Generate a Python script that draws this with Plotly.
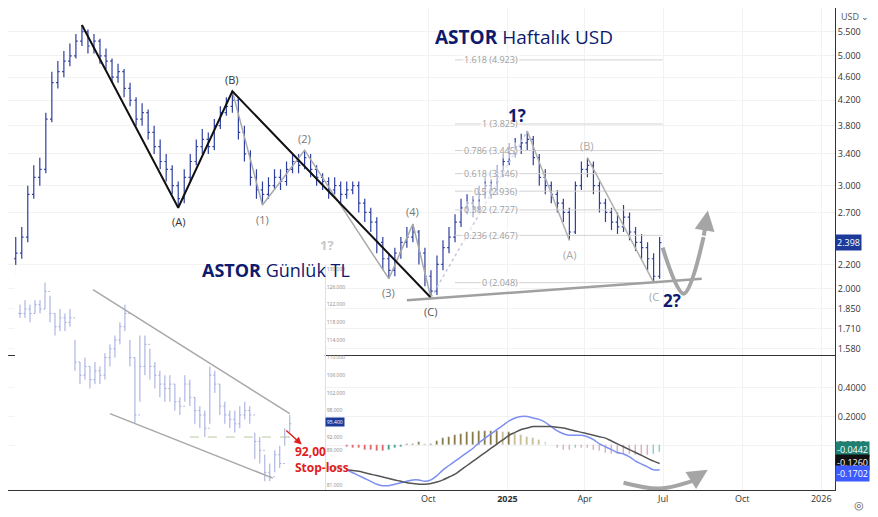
import math
import pandas as pd
import plotly.graph_objects as go

# weekly USD bars (open = previous close)
wk_close = [2.30, 2.45, 2.90, 3.10, 3.20, 3.90, 4.50, 4.70, 4.90, 5.00, 5.30, 5.50,
            5.20, 5.30, 5.00, 4.90, 4.60, 4.70, 4.40, 4.20, 3.90, 4.00, 3.70, 3.50, 3.30, 3.20, 3.00, 2.85,
            3.10, 3.30, 3.50, 3.60, 3.50, 3.80, 4.00, 4.10, 4.20,
            3.70, 3.40, 3.10, 2.95, 2.90,
            3.00, 3.10, 3.05, 3.20, 3.30, 3.25, 3.35,
            3.20, 3.10, 3.05, 2.95, 3.00, 2.90, 2.95, 3.00, 2.80, 2.70, 2.60, 2.40, 2.25, 2.15,
            2.30, 2.40, 2.45, 2.50,
            2.30, 2.10, 1.98,
            2.20, 2.35, 2.45, 2.60, 2.75, 2.80, 2.75, 2.90, 3.00, 2.95, 3.15, 3.30, 3.40, 3.50, 3.55, 3.60,
            3.35, 3.10, 3.00, 2.90, 2.80, 2.70, 2.50,
            3.00, 3.20, 3.25,
            3.00, 2.80, 2.70, 2.60, 2.55, 2.65, 2.50, 2.40, 2.35, 2.25, 2.10, 2.398]
wk_high = [2.45, 2.55, 3.00, 3.25, 3.35, 4.00, 4.70, 4.90, 5.10, 5.25, 5.45, 5.65,
           5.55, 5.45, 5.35, 5.15, 4.95, 4.85, 4.75, 4.50, 4.25, 4.15, 4.05, 3.80, 3.60, 3.40, 3.25, 3.05,
           3.20, 3.40, 3.60, 3.75, 3.70, 3.90, 4.10, 4.25, 4.35,
           4.25, 3.80, 3.45, 3.20, 3.05,
           3.10, 3.20, 3.20, 3.30, 3.40, 3.40, 3.45,
           3.40, 3.25, 3.15, 3.10, 3.10, 3.05, 3.05, 3.05, 3.05, 2.85, 2.75, 2.65, 2.45, 2.30,
           2.35, 2.45, 2.55, 2.58,
           2.52, 2.35, 2.15,
           2.28, 2.42, 2.55, 2.68, 2.85, 2.90, 2.88, 3.00, 3.10, 3.08, 3.25, 3.40, 3.55, 3.62, 3.68, 3.72,
           3.65, 3.40, 3.20, 3.05, 2.95, 2.85, 2.75,
           3.05, 3.30, 3.35,
           3.30, 3.05, 2.85, 2.75, 2.70, 2.78, 2.70, 2.55, 2.48, 2.40, 2.30, 2.45]
wk_low = [2.10, 2.25, 2.40, 2.85, 3.00, 3.15, 3.85, 4.40, 4.60, 4.80, 4.95, 5.20,
          5.05, 5.05, 4.85, 4.75, 4.50, 4.50, 4.25, 4.10, 3.80, 3.80, 3.60, 3.40, 3.20, 3.05, 2.90, 2.75,
          2.80, 3.05, 3.25, 3.40, 3.40, 3.45, 3.75, 3.95, 4.00,
          3.60, 3.30, 3.00, 2.85, 2.78,
          2.85, 2.95, 2.95, 3.00, 3.15, 3.15, 3.20,
          3.10, 3.00, 2.95, 2.85, 2.90, 2.80, 2.85, 2.90, 2.70, 2.60, 2.50, 2.30, 2.15, 2.08,
          2.10, 2.25, 2.35, 2.40,
          2.20, 2.02, 1.93,
          1.95, 2.15, 2.30, 2.40, 2.55, 2.68, 2.65, 2.70, 2.85, 2.85, 2.90, 3.10, 3.25, 3.35, 3.40, 3.45,
          3.25, 3.00, 2.90, 2.80, 2.70, 2.60, 2.42,
          2.48, 2.95, 3.10,
          2.90, 2.70, 2.60, 2.52, 2.48, 2.50, 2.42, 2.32, 2.25, 2.15, 2.05, 2.08]
wk_first_open = 2.25
wk_start = "2023-06-09"

# MACD, weeks 55..107
macd_start = 55
macd = [-0.17, -0.19, -0.21, -0.23, -0.25, -0.27, -0.28, -0.28, -0.27, -0.26, -0.25, -0.24, -0.24, -0.25, -0.24,
        -0.21, -0.17, -0.14, -0.11, -0.08, -0.05, -0.02, 0.02, 0.05, 0.08, 0.11, 0.14, 0.17, 0.19, 0.20,
        0.20, 0.19, 0.18, 0.16, 0.13, 0.10, 0.08, 0.07, 0.07, 0.07, 0.06, 0.04, 0.01, -0.01, -0.03,
        -0.05, -0.06, -0.08, -0.11, -0.13, -0.15, -0.17, -0.1702]
signal = [-0.17, -0.175, -0.18, -0.19, -0.20, -0.21, -0.22, -0.23, -0.24, -0.25, -0.26, -0.265, -0.27, -0.27, -0.265,
          -0.255, -0.24, -0.22, -0.20, -0.17, -0.14, -0.11, -0.08, -0.05, -0.02, 0.01, 0.04, 0.07, 0.09, 0.11,
          0.12, 0.13, 0.13, 0.13, 0.13, 0.125, 0.12, 0.11, 0.10, 0.09, 0.08, 0.07, 0.06, 0.05, 0.03,
          0.01, -0.01, -0.03, -0.05, -0.07, -0.09, -0.11, -0.126]
hist = [-0.01, -0.02, -0.02, -0.03, -0.03, -0.04, -0.04, -0.03, -0.02, -0.01, 0.01, 0.01, 0.02, 0.01, 0.01,
        0.03, 0.05, 0.06, 0.07, 0.08, 0.09, 0.09, 0.10, 0.10, 0.10, 0.10, 0.09, 0.09, 0.08, 0.07,
        0.06, 0.05, 0.04, 0.02, 0.0, -0.02, -0.03, -0.03, -0.02, -0.02, -0.02, -0.03, -0.04, -0.05, -0.06,
        -0.06, -0.06, -0.06, -0.07, -0.07, -0.07, -0.06, -0.0442]

# Fibonacci retracement
fib_ratio = ["1.618", "1", "0.786", "0.618", "0.5", "0.382", "0.236", "0"]
fib_price = [4.923, 3.825, 3.445, 3.146, 2.936, 2.727, 2.467, 2.048]

price_ticks = [5.5, 5.0, 4.6, 4.2, 3.8, 3.4, 3.0, 2.7, 2.2, 2.0, 1.85, 1.71, 1.58]
macd_ticks = [0.4, 0.2, 0.0]

# daily TL inset
d_close = [120, 121, 120, 122, 121, 125, 120, 117, 119, 118, 119, 109, 106, 108, 105, 107, 106, 110, 112, 114,
           117, 120, 110, 97, 108, 113, 108, 106, 104, 103, 104, 100, 99, 104, 101, 98, 97, 94, 106, 104,
           99, 97, 96, 95, 97, 98, 97, 91, 89, 84, 83, 88, 86, 92, 95]
d_high = [122, 123, 122, 123, 123, 127, 124, 120, 121, 120, 121, 114, 109, 110, 108, 109, 108, 111, 113, 115,
          118, 122, 114, 110, 115, 115, 112, 109, 107, 106, 106, 104, 101, 106, 105, 101, 99, 98, 108, 107,
          104, 100, 98, 98, 99, 100, 99, 93, 92, 88, 86, 89, 90, 94, 97]
d_low = [119, 119, 118, 120, 120, 121, 118, 115, 116, 116, 117, 107, 104, 105, 103, 104, 104, 105, 108, 110,
         113, 116, 108, 95, 100, 106, 105, 103, 101, 100, 100, 98, 97, 100, 99, 95, 94, 92, 95, 102,
         97, 95, 94, 93, 94, 96, 95, 87, 86, 82, 82, 84, 85, 90, 93]
d_ticks = [130, 126, 122, 118, 114, 110, 106, 102, 98, 92, 89, 85, 81]
stop_loss = 92.00

NAVY = "#0d1a6e"
BAR = "#2f3f9f"
GRID = "#f2f2f2"

dates = pd.date_range(wk_start, periods=len(wk_close), freq="7D")
wk_open = [wk_first_open] + wk_close[:-1]
d = lambda i: pd.Timestamp(wk_start) + pd.Timedelta(days=7 * i)
lg = math.log10

fig = go.Figure()

fig.add_trace(go.Ohlc(x=dates, open=wk_open, high=wk_high, low=wk_low, close=wk_close,
                      increasing_line_color=BAR, decreasing_line_color=BAR, line_width=1.2,
                      tickwidth=0.3, xaxis="x2", yaxis="y", showlegend=False))

# fib lines
f0, f1 = d(73), d(107.5)
for r, p in zip(fib_ratio, fib_price):
    fig.add_trace(go.Scatter(x=[f0, f1], y=[p, p], mode="lines", line=dict(color="#d2d2d2", width=1),
                             xaxis="x2", yaxis="y", showlegend=False, hoverinfo="skip"))
    fig.add_annotation(x=d(83.8), y=lg(p), xref="x2", yref="y", text=f"{r} ({p:.3f})", showarrow=False,
                       xanchor="right", yanchor="middle", font=dict(size=9, color="#a0a0a0"),
                       bgcolor="rgba(255,255,255,0.55)")

# elliott waves
def pt(i, which):
    return d(i), (wk_high[i] if which == "h" else wk_low[i])

main_wave = [pt(11, "h"), pt(27, "l"), pt(36, "h"), pt(69, "l")]
sub_wave = [pt(36, "h"), pt(41, "l"), pt(48, "h"), pt(62, "l"), pt(66, "h"), pt(69, "l")]
fig.add_trace(go.Scatter(x=[p[0] for p in sub_wave], y=[p[1] for p in sub_wave], mode="lines",
                         line=dict(color="#a8a8a8", width=1.5), xaxis="x2", yaxis="y", showlegend=False))
fig.add_trace(go.Scatter(x=[p[0] for p in main_wave], y=[p[1] for p in main_wave], mode="lines",
                         line=dict(color="#111111", width=2), xaxis="x2", yaxis="y", showlegend=False))
up = [pt(69, "l"), pt(85, "h")]
fig.add_trace(go.Scatter(x=[p[0] for p in up], y=[p[1] for p in up], mode="lines",
                         line=dict(color="#c4c8dc", width=1.5, dash="dot"), xaxis="x2", yaxis="y", showlegend=False))
for seg in ([pt(85, "h"), pt(92, "l")], [pt(95, "h"), pt(106, "l")]):
    fig.add_trace(go.Scatter(x=[p[0] for p in seg], y=[p[1] for p in seg], mode="lines",
                             line=dict(color="#b0b0b0", width=1.5), xaxis="x2", yaxis="y", showlegend=False))

# support line
sup_w = [65, 114]
sup_p = [1.91, 2.08]
fig.add_trace(go.Scatter(x=[d(w) for w in sup_w], y=sup_p, mode="lines", line=dict(color="#a0a0a0", width=2.5),
                         xaxis="x2", yaxis="y", showlegend=False))

# projected path arrows
proj_w = [107.5, 111, 114.3]
proj_p = [2.35, 1.96, 2.45]
fig.add_trace(go.Scatter(x=[d(w) for w in proj_w], y=proj_p, mode="lines", line=dict(color="#a5a5a5", width=4, shape="spline"),
                         xaxis="x2", yaxis="y", showlegend=False))
fig.add_annotation(x=d(115), y=lg(2.72), ax=d(114.3), ay=lg(2.45), xref="x2", yref="y", axref="x2", ayref="y",
                   showarrow=True, arrowhead=2, arrowsize=1, arrowwidth=4, arrowcolor="#a5a5a5", text="")
mproj_w = [101, 107, 113]
mproj_p = [-0.26, -0.30, -0.24]
fig.add_trace(go.Scatter(x=[d(w) for w in mproj_w], y=mproj_p, mode="lines", line=dict(color="#a5a5a5", width=4, shape="spline"),
                         xaxis="x", yaxis="y2", showlegend=False))
fig.add_annotation(x=d(115), y=-0.17, ax=d(112.5), ay=-0.235, xref="x", yref="y2", axref="x", ayref="y2",
                   showarrow=True, arrowhead=2, arrowsize=1, arrowwidth=4, arrowcolor="#a5a5a5", text="")

# MACD
mdates = dates[macd_start:]
hcol = []
for k, h in enumerate(hist):
    prev = hist[k - 1] if k else h
    if h >= 0:
        hcol.append("#7d6a2e" if h >= prev else "#c9b98a")
    else:
        hcol.append("#e0524f" if h <= prev else "#2a8f7f")
fig.add_trace(go.Bar(x=mdates, y=hist, marker_color=hcol, width=1.6e8, xaxis="x", yaxis="y2", showlegend=False))
fig.add_trace(go.Scatter(x=mdates, y=macd, mode="lines", line=dict(color="#7d8ff0", width=1.5, shape="spline"),
                         xaxis="x", yaxis="y2", showlegend=False))
fig.add_trace(go.Scatter(x=mdates, y=signal, mode="lines", line=dict(color="#555555", width=1.5, shape="spline"),
                         xaxis="x", yaxis="y2", showlegend=False))

# inset daily chart
di = list(range(len(d_close)))
d_open = [d_close[0]] + d_close[:-1]
fig.add_trace(go.Ohlc(x=di, open=d_open, high=d_high, low=d_low, close=d_close,
                      increasing_line_color="#9ea8dc", decreasing_line_color="#9ea8dc", line_width=1,
                      tickwidth=0.3, xaxis="x3", yaxis="y3", showlegend=False))
ch_top = [(14.6, 125.4), (54, 97.3)]
ch_bot = [(18, 97.3), (50.6, 82.7)]
for ch in (ch_top, ch_bot):
    fig.add_trace(go.Scatter(x=[c[0] for c in ch], y=[c[1] for c in ch], mode="lines",
                             line=dict(color="#a8a8a8", width=1.5), xaxis="x3", yaxis="y3", showlegend=False))
fig.add_trace(go.Scatter(x=[34, 54], y=[stop_loss, stop_loss], mode="lines",
                         line=dict(color="#b8c8a0", width=1, dash="dash"), xaxis="x3", yaxis="y3", showlegend=False))
fig.add_annotation(x=56.4, y=90.3, ax=53, ay=93.8, xref="x3", yref="y3", axref="x3", ayref="y3", text="",
                   showarrow=True, arrowhead=2, arrowwidth=1.5, arrowcolor="#e02020")
fig.add_annotation(x=54.6, y=91, xref="x3", yref="y3", xanchor="left", yanchor="top", showarrow=False,
                   text="<b>92,00<br>Stop-loss</b>", align="left", font=dict(size=12, color="#e02020", family="Open Sans"))
fig.add_annotation(x=1.0, y=131.8, xref="x3 domain", yref="y3", xanchor="left", showarrow=False,
                   text="131.784", bgcolor="#222", font=dict(size=5, color="white"), borderpad=1)
fig.add_annotation(x=1.0, y=95.4, xref="x3 domain", yref="y3", xanchor="left", showarrow=False,
                   text="95.400", bgcolor="#1c3a9a", font=dict(size=5, color="white"), borderpad=1)

# labels
lab = dict(xref="x2", yref="y", showarrow=False)
for i, w, t, col, sh in [(27, "l", "(A)", "#333", -14), (36, "h", "(B)", "#333", 12), (41, "l", "(1)", "#777", -14),
                         (48, "h", "(2)", "#777", 12), (62, "l", "(3)", "#777", -14), (66, "h", "(4)", "#777", 12),
                         (69, "l", "(C)", "#555", -14), (92, "l", "(A)", "#aaa", -14), (95, "h", "(B)", "#aaa", 12),
                         (106, "l", "(C", "#aaa", -14)]:
    x, y = pt(i, w)
    fig.add_annotation(x=x, y=lg(y), text=t, yshift=sh, font=dict(size=11, color=col), **lab)
x, y = pt(85, "h")
fig.add_annotation(x=x, y=lg(y), text="<b>1?</b>", yshift=16, xshift=-10, font=dict(size=17, color=NAVY), **lab)
x, y = pt(106, "l")
fig.add_annotation(x=x, y=lg(y), text="<b>2?</b>", yshift=-18, xshift=18, font=dict(size=17, color=NAVY), **lab)
fig.add_annotation(x=0.386, y=0.508, xref="paper", yref="paper", text="<b>1?</b>", showarrow=False,
                   font=dict(size=13, color="#c8c8c8"))

fig.add_annotation(x=0.734, y=0.971, xref="paper", yref="paper", showarrow=False,
                   text="<b>ASTOR</b> Haftalık USD", font=dict(size=19, color=NAVY, family="Open Sans"))
fig.add_annotation(x=0.232, y=0.456, xref="paper", yref="paper", showarrow=False,
                   text="<b>ASTOR</b> Günlük TL", font=dict(size=18, color=NAVY, family="Open Sans"))

# price tags
tag = dict(xref="paper", x=1.0, xanchor="left", showarrow=False, font=dict(size=9, color="white"),
           borderpad=1)
fig.add_annotation(y=lg(wk_close[-1]), yref="y", text=f"{wk_close[-1]:.3f}", bgcolor="#1c3a9a", **tag)
fig.add_annotation(y=hist[-1], yref="y2", text=f"{hist[-1]:.4f}", bgcolor="#1f7f70", yshift=2, **tag)
fig.add_annotation(y=signal[-1], yref="y2", text=f"{signal[-1]:.4f}", bgcolor="#111", yshift=1, **tag)
fig.add_annotation(y=macd[-1], yref="y2", text=f"{macd[-1]:.4f}", bgcolor="#3d5afe", yshift=-4, **tag)
fig.add_annotation(x=1.005, y=1.0, xref="paper", yref="paper", xanchor="left", yanchor="top", showarrow=False,
                   text="USD ⌄", font=dict(size=9, color="#555"))
fig.add_annotation(x=1.02, y=-0.03, xref="paper", yref="paper", xanchor="left", yanchor="middle", showarrow=False,
                   text="◎", font=dict(size=11, color="#555"))

fig.update_layout(
    width=870, height=509, margin=dict(l=0, r=43, t=0, b=27),
    paper_bgcolor="white", plot_bgcolor="white", showlegend=False, bargap=0,
    font=dict(family="Open Sans", size=9, color="#333"),
    xaxis=dict(domain=[0, 1], anchor="y2", type="date", range=["2023-05-31", "2026-01-17"],
               tickvals=["2024-10-01", "2025-01-01", "2025-04-01", "2025-07-01", "2025-10-01", "2026-01-01"],
               ticktext=["Oct", "<b>2025</b>", "Apr", "Jul", "Oct", "2026"],
               showgrid=True, gridcolor=GRID, showline=True, linecolor="#333", ticks="", rangeslider=dict(visible=False)),
    xaxis2=dict(domain=[0, 1], anchor="y", matches="x", showticklabels=False, showgrid=True, gridcolor=GRID,
                tickvals=["2024-10-01", "2025-01-01", "2025-04-01", "2025-07-01", "2025-10-01", "2026-01-01"],
                showline=True, linecolor="#333", rangeslider=dict(visible=False)),
    yaxis=dict(domain=[0.280, 1], anchor="x2", type="log", side="right", range=[0.1875, 0.781],
               tickvals=price_ticks, ticktext=[f"{v:.3f}" for v in price_ticks], gridcolor=GRID,
               showline=True, linecolor="#333", zeroline=False),
    yaxis2=dict(domain=[0, 0.278], anchor="x", side="right", range=[-0.31, 0.62],
                tickvals=macd_ticks, ticktext=[f"{v:.4f}" for v in macd_ticks], gridcolor=GRID,
                showline=True, linecolor="#333", zeroline=False),
    xaxis3=dict(domain=[0.0085, 0.383], anchor="y3", range=[-1, 61], visible=False, rangeslider=dict(visible=False)),
    yaxis3=dict(domain=[0, 0.467], anchor="x3", side="right", range=[80, 131], tickvals=d_ticks,
                ticktext=[f"{v:.3f}" for v in d_ticks], tickfont=dict(size=5, color="#888"),
                showgrid=False, zeroline=False, showline=True, linecolor="#e0e0e0"),
    shapes=[dict(type="rect", xref="paper", yref="paper", x0=0, x1=0.4075, y0=-0.056, y1=0.4876,
                 fillcolor="white", line=dict(width=0), layer="below")],
)

fig.write_html("out.html")
